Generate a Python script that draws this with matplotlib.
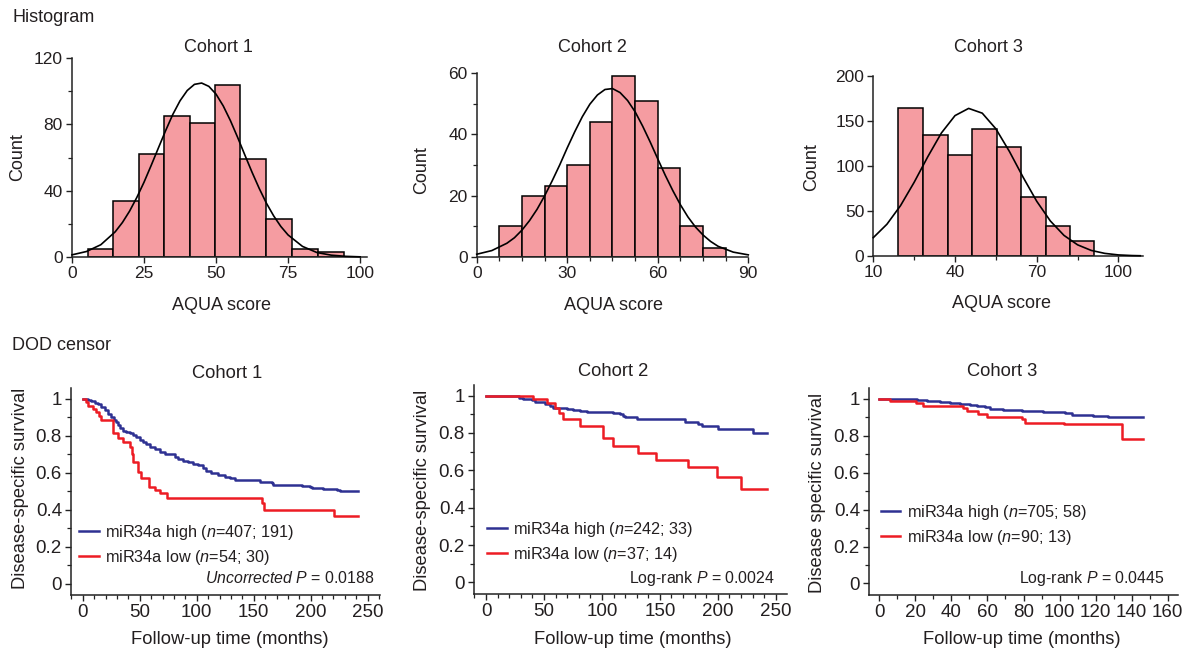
import numpy as np
import matplotlib
matplotlib.use("Agg")
import matplotlib.pyplot as plt
from matplotlib.ticker import MultipleLocator, FixedLocator

plt.rcParams['font.family'] = ['Liberation Sans', 'DejaVu Sans']
plt.rcParams['mathtext.fontset'] = 'custom'
plt.rcParams['mathtext.rm'] = 'Liberation Sans'
plt.rcParams['mathtext.it'] = 'Liberation Sans:italic'

# ---- histogram data (AQUA score) ----
c1_edges = [5.4, 14.1, 23.1, 31.8, 40.9, 49.8, 58.4, 67.4, 76.5, 85.3, 94.3]
c1_counts = [5, 34, 62, 85, 81, 104, 59, 23, 5, 3]
c1_fit_x = [0, 5, 10, 15, 17.5, 20, 22.5, 25, 27.5, 30, 32.5, 35, 37.5, 40, 42.5, 45, 47.5, 50,
            52.5, 55, 57.5, 60, 62.5, 65, 67.5, 70, 72.5, 75, 80, 85, 90, 95, 100]
c1_fit_y = [1.3, 3.3, 7.4, 15.2, 20.8, 27.7, 35.9, 45.1, 55.3, 65.8, 76.2, 86.0, 94.2, 100.4,
            104.1, 104.9, 102.9, 98.2, 91.1, 82.2, 72.1, 61.5, 51.1, 41.3, 32.4, 24.8, 18.4,
            13.3, 6.4, 2.7, 1.1, 0.4, 0.1]

c2_edges = [7.5, 15, 22.5, 30, 37.5, 45, 52.5, 60, 67.5, 75, 82.5]
c2_counts = [10, 20, 23, 30, 44, 59, 51, 29, 10, 3]
c2_fit_x = [0, 5, 10, 12.5, 15, 17.5, 20, 22.5, 25, 27.5, 30, 32.5, 35, 37.5, 40, 42.5, 45, 47.5,
            50, 52.5, 55, 57.5, 60, 62.5, 65, 67.5, 70, 72.5, 75, 77.5, 80, 85, 90]
c2_fit_y = [0.8, 2.0, 4.4, 6.2, 8.7, 11.8, 15.5, 19.9, 24.8, 30.0, 35.6, 40.9, 45.8, 49.9, 52.9,
            54.7, 55.0, 53.7, 51.1, 47.4, 42.7, 37.5, 32.0, 26.6, 21.6, 17.0, 13.0, 9.7, 7.1,
            5.0, 3.4, 1.5, 0.6]

c3_edges = [19.2, 28.4, 37.3, 46.4, 55.3, 64.2, 73.3, 82.2, 91.2]
c3_counts = [164, 135, 112, 141, 121, 66, 33, 17]
c3_fit_x = [10, 15, 20, 25, 30, 35, 40, 45, 50, 55, 60, 65, 70, 75, 80, 85, 90, 95, 100, 105, 108]
c3_fit_y = [20.4, 35.3, 56.0, 81.9, 110.3, 136.7, 156.0, 164.0, 158.7, 141.3, 116.0, 87.5, 60.8,
            38.9, 22.9, 12.4, 6.2, 2.9, 1.2, 0.5, 0.3]

# ---- survival data (months, survival) ----
c1_high_t = [0, 4.6, 7.6, 10.5, 13.4, 16.3, 19.3, 22.2, 25.1, 27.5, 29.5, 31.0, 32.4, 35.4, 38.3,
             41.2, 44.1, 47.0, 50.0, 52.9, 55.8, 58.7, 63.1, 67.5, 71.9, 76.3, 80.7, 83.6, 88.0,
             92.4, 96.8, 101.1, 105.5, 108.4, 112.8, 118.7, 124.5, 128.9, 133.3, 152.6, 155.5,
             165.8, 167.3, 192.1, 199.4, 200.8, 211.1, 222.8, 225.7, 241.8]
c1_high_s = [1.0, 0.995, 0.99, 0.98, 0.97, 0.955, 0.939, 0.918, 0.900, 0.885, 0.876, 0.858, 0.840,
             0.827, 0.822, 0.816, 0.804, 0.795, 0.777, 0.764, 0.755, 0.741, 0.728, 0.713, 0.704,
             0.699, 0.686, 0.672, 0.663, 0.659, 0.647, 0.641, 0.623, 0.609, 0.600, 0.587, 0.578,
             0.569, 0.563, 0.560, 0.551, 0.545, 0.536, 0.529, 0.524, 0.518, 0.513, 0.506, 0.502,
             0.502]
c1_low_t = [0, 3.2, 4.6, 9.0, 12.0, 14.0, 15.8, 26.6, 31.0, 35.4, 41.2, 43.2, 44.0, 48.5, 51.4,
            58.2, 63.1, 67.5, 74.2, 157.5, 159.3, 220.4, 241.8]
c1_low_s = [1.0, 0.981, 0.963, 0.944, 0.926, 0.907, 0.885, 0.813, 0.786, 0.768, 0.740, 0.70, 0.659,
            0.605, 0.569, 0.524, 0.506, 0.488, 0.461, 0.434, 0.40, 0.366, 0.366]

c2_high_t = [0, 28.8, 30.8, 32.2, 39.4, 42.3, 46.6, 50.9, 55.2, 58.1, 63.8, 69.6, 75.3, 81.1, 86.9,
             101.2, 109.9, 115.6, 118.5, 119.9, 130.0, 171.7, 182.6, 186.1, 200.5, 230.1, 242.2]
c2_high_s = [1.0, 0.99, 0.985, 0.98, 0.976, 0.967, 0.964, 0.953, 0.944, 0.935, 0.932, 0.926, 0.921,
             0.917, 0.914, 0.910, 0.905, 0.901, 0.890, 0.884, 0.875, 0.860, 0.848, 0.835, 0.821,
             0.800, 0.800]
c2_low_t = [0, 40.8, 52.3, 59.5, 63.3, 66.7, 81.1, 100.7, 109.9, 131.4, 146.4, 174.0, 199.0, 220.0,
            242.2]
c2_low_s = [1.0, 0.982, 0.959, 0.932, 0.905, 0.873, 0.837, 0.771, 0.732, 0.694, 0.655, 0.616,
            0.566, 0.500, 0.500]

c3_high_t = [0, 15.2, 20.7, 26.3, 33.7, 39.2, 44.8, 50.3, 54.0, 58.6, 61.4, 68.8, 79.0, 91.0,
             103.0, 106.7, 118.7, 127.1, 146.5]
c3_high_s = [1.0, 0.998, 0.995, 0.99, 0.985, 0.98, 0.972, 0.965, 0.96, 0.955, 0.947, 0.941, 0.936,
             0.929, 0.922, 0.914, 0.909, 0.905, 0.905]
c3_low_t = [0, 5.9, 20.4, 24.4, 46.3, 48.5, 54.9, 59.6, 79.0, 80.8, 102.5, 134.5, 146.5]
c3_low_s = [1.0, 0.99, 0.98, 0.96, 0.95, 0.935, 0.92, 0.902, 0.89, 0.872, 0.862, 0.785, 0.785]

legend_high = [r'miR34a high ($\it{n}$=407; 191)', r'miR34a high ($\it{n}$=242; 33)',
               r'miR34a high ($\it{n}$=705; 58)']
legend_low = [r'miR34a low ($\it{n}$=54; 30)', r'miR34a low ($\it{n}$=37; 14)',
              r'miR34a low ($\it{n}$=90; 13)']
p_texts = [r'$\it{Uncorrected\ P}$ = 0.0188', r'Log-rank $\it{P}$ = 0.0024',
           r'Log-rank $\it{P}$ = 0.0445']

TXT = '#231f20'
PINK = '#f59ca1'
BLUE = '#2e3192'
RED = '#ed1c24'

W, H = 1184, 648
fig = plt.figure(figsize=(W / 100, H / 100), dpi=100)


def rect(l, t, r, b):
    return [l / W, 1 - b / H, (r - l) / W, (b - t) / H]


def ftext(x, y, s, **kw):
    fig.text(x / W, 1 - y / H, s, color=TXT, **kw)


def style(ax, size):
    for sp in ['top', 'right']:
        ax.spines[sp].set_visible(False)
    for sp in ['left', 'bottom']:
        ax.spines[sp].set_linewidth(1.1)
        ax.spines[sp].set_color('#222222')
    ax.tick_params(which='major', direction='out', length=4.5, width=1.0,
                   labelsize=size, colors='#222222', labelcolor=TXT, pad=2)
    ax.tick_params(which='minor', direction='out', length=3, width=0.9, colors='#222222')


# ---- histograms ----
hist_specs = [
    (c1_edges, c1_counts, c1_fit_x, c1_fit_y, (72, 58, 367, 257), (0, 102.4), (0, 120),
     [0, 25, 50, 75, 100], 40, 20, None),
    (c2_edges, c2_counts, c2_fit_x, c2_fit_y, (476.7, 73.3, 748.3, 256.7), (0, 90), (0, 60),
     [0, 30, 60, 90], 20, 10, 7.5),
    (c3_edges, c3_counts, c3_fit_x, c3_fit_y, (873.3, 76, 1142.7, 256), (10, 108.9), (0, 200),
     [10, 40, 70, 100], 50, None, [25, 55, 85]),
]
for edges, counts, fx, fy, box, xl, yl, xt, ymaj, ymin, xmin in hist_specs:
    ax = fig.add_axes(rect(*box))
    e = np.array(edges)
    ax.bar(e[:-1], counts, width=np.diff(e), align='edge', color=PINK,
           edgecolor='black', linewidth=1.1, zorder=2)
    ax.plot(fx, fy, color='black', lw=1.2, zorder=3, clip_on=False)
    ax.set_xlim(*xl)
    ax.set_ylim(*yl)
    ax.set_xticks(xt)
    ax.yaxis.set_major_locator(MultipleLocator(ymaj))
    if ymin:
        ax.yaxis.set_minor_locator(MultipleLocator(ymin))
    if isinstance(xmin, list):
        ax.xaxis.set_minor_locator(FixedLocator(xmin))
    elif xmin:
        ax.xaxis.set_minor_locator(MultipleLocator(xmin))
    style(ax, 12.5)

ftext(12, 18, 'Histogram', fontsize=13, va='center', ha='left')
for x, y, s in [(218, 47, 'Cohort 1'), (592, 47, 'Cohort 2'), (988, 47, 'Cohort 3')]:
    ftext(x, y, s, fontsize=13, ha='center', va='center')
for x, y in [(18, 157), (422, 170), (812, 167)]:
    ftext(x, y, 'Count', fontsize=13, ha='center', va='center', rotation=90)
for x, y in [(222, 305), (614, 305), (1002, 304)]:
    ftext(x, y, 'AQUA score', fontsize=13, ha='center', va='center')

# ---- survival curves ----
km_specs = [
    (c1_high_t, c1_high_s, c1_low_t, c1_low_s, (71, 388.3, 380, 595), (-10.3, 260.8),
     (-0.062, 1.057), 50, 10, (79, 523), (375, 578)),
    (c2_high_t, c2_high_s, c2_low_t, c2_low_s, (474, 385, 786.7, 594.3), (-10.4, 259.4),
     (-0.064, 1.057), 50, 10, (487, 520), (775, 579)),
    (c3_high_t, c3_high_s, c3_low_t, c3_low_s, (869, 388.3, 1177.7, 595), (-5.7, 165.5),
     (-0.063, 1.058), 20, 10, (880.7, 503), (1165, 579)),
]
for i, (ht, hs, lt, ls, box, xl, yl, xmaj, xmin, leg_xy, p_xy) in enumerate(km_specs):
    ax = fig.add_axes(rect(*box))
    l1, = ax.step(ht, hs, where='post', color=BLUE, lw=1.8, label=legend_high[i], zorder=3)
    l2, = ax.step(lt, ls, where='post', color=RED, lw=1.8, label=legend_low[i], zorder=4)
    ax.set_xlim(*xl)
    ax.set_ylim(*yl)
    ax.xaxis.set_major_locator(MultipleLocator(xmaj))
    ax.xaxis.set_minor_locator(MultipleLocator(xmin))
    ax.set_yticks([0, 0.2, 0.4, 0.6, 0.8, 1.0])
    ax.set_yticklabels(['0', '0.2', '0.4', '0.6', '0.8', '1'])
    ax.yaxis.set_minor_locator(MultipleLocator(0.1))
    style(ax, 13.5)
    ax.set_xticks([v for v in ax.get_xticks() if v >= 0 and v <= xl[1]])
    ax.legend(handles=[l1, l2], loc='upper left', frameon=False, fontsize=11.7,
              handlelength=1.2, handletextpad=0.43, labelspacing=0.35, borderpad=0,
              borderaxespad=0, bbox_to_anchor=(leg_xy[0] / W, 1 - leg_xy[1] / H),
              bbox_transform=fig.transFigure)
    for txt in ax.get_legend().get_texts():
        txt.set_color(TXT)
    ftext(p_xy[0], p_xy[1], p_texts[i], fontsize=11.4, ha='right', va='center')

ftext(12, 345, 'DOD censor', fontsize=13, va='center', ha='left')
for x, y, s in [(227, 373, 'Cohort 1'), (613, 372, 'Cohort 2'), (1002, 372, 'Cohort 3')]:
    ftext(x, y, s, fontsize=13.2, ha='center', va='center')
for x, y, s in [(21, 488, 'Disease-specific survival'), (423, 490, 'Disease-specific survival'),
                (817, 493, 'Disease specific survival')]:
    ftext(x, y, s, fontsize=13.2, ha='center', va='center', rotation=90)
for x, y in [(230, 639), (633, 639), (1022, 639)]:
    ftext(x, y, 'Follow-up time (months)', fontsize=13.2, ha='center', va='center')

fig.savefig('out.png', dpi=100)
